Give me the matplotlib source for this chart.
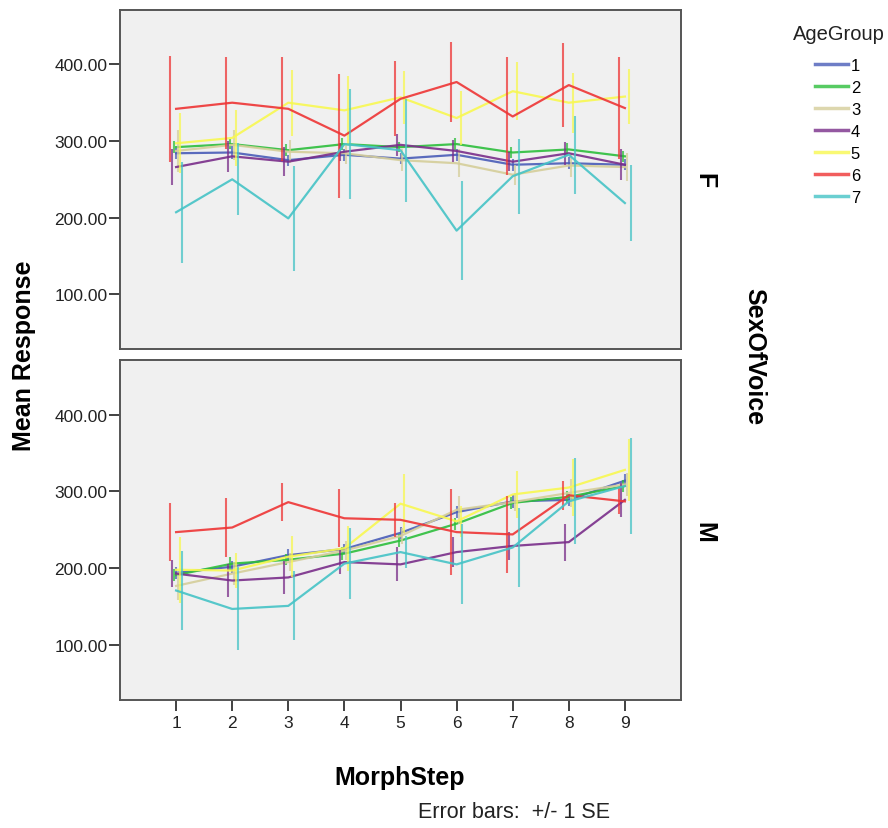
import numpy as np
import matplotlib
matplotlib.use("Agg")
import matplotlib.pyplot as plt
from matplotlib.lines import Line2D

plt.rcParams['font.family'] = ['Liberation Sans', 'DejaVu Sans']

# MorphStep categories and age groups
steps = [1, 2, 3, 4, 5, 6, 7, 8, 9]
age_groups = ['1', '2', '3', '4', '5', '6', '7']

# Female voice (top panel): means and standard errors per age group
f_mean = {
    '1': [284, 285, 275, 282, 277, 282, 269, 271, 269],
    '2': [292, 296, 288, 296, 292, 296, 285, 289, 280],
    '3': [287, 295, 286, 284, 275, 271, 256, 268, 266],
    '4': [266, 280, 273, 286, 295, 287, 273, 284, 269],
    '5': [297, 304, 350, 340, 357, 330, 365, 350, 358],
    '6': [342, 350, 342, 307, 355, 377, 332, 373, 343],
    '7': [207, 250, 199, 296, 288, 183, 254, 282, 219],
}
f_se = {
    '1': [7, 8, 7, 8, 7, 8, 8, 8, 7],
    '2': [8, 7, 8, 8, 7, 8, 7, 8, 7],
    '3': [27, 20, 15, 14, 14, 18, 13, 15, 18],
    '4': [24, 20, 19, 12, 14, 14, 12, 15, 20],
    '5': [39, 36, 43, 45, 35, 35, 38, 39, 36],
    '6': [69, 60, 68, 81, 49, 52, 77, 55, 66],
    '7': [66, 47, 69, 72, 67, 65, 49, 51, 50],
}

# Male voice (bottom panel)
m_mean = {
    '1': [194, 202, 217, 225, 246, 273, 287, 289, 314],
    '2': [191, 206, 211, 219, 236, 258, 285, 293, 307],
    '3': [177, 193, 208, 223, 242, 276, 286, 298, 309],
    '4': [193, 184, 188, 208, 205, 221, 229, 234, 289],
    '5': [198, 197, 215, 226, 284, 261, 296, 305, 328],
    '6': [247, 253, 286, 265, 263, 247, 244, 295, 287],
    '7': [171, 147, 151, 206, 221, 205, 227, 287, 307],
}
m_se = {
    '1': [8, 8, 8, 7, 8, 8, 8, 8, 8],
    '2': [8, 8, 7, 8, 8, 8, 8, 8, 8],
    '3': [18, 15, 12, 12, 10, 18, 12, 18, 15],
    '4': [18, 22, 22, 16, 22, 20, 18, 24, 22],
    '5': [43, 23, 27, 29, 38, 20, 30, 37, 40],
    '6': [38, 38, 25, 38, 22, 56, 50, 19, 17],
    '7': [52, 54, 45, 46, 21, 52, 51, 56, 63],
}

colors = {
    '1': '#4A5DB8',
    '2': '#2DBE3C',
    '3': '#D5CE9A',
    '4': '#7A2E8A',
    '5': '#F8F850',
    '6': '#EE3535',
    '7': '#45C3C6',
}
# horizontal dodge of the error bars (lines stay on the category)
dodge = {'6': -3, '4': -2, '2': -1, '1': 0, '3': 1, '5': 2, '7': 3}

W, H = 888, 829
fig = plt.figure(figsize=(W / 100, H / 100), dpi=100)


def fx(x):
    return x / W


def fy(y):
    return 1 - y / H


ax_f = fig.add_axes([fx(120), fy(350), fx(681) - fx(120), fy(11) - fy(350)])
ax_m = fig.add_axes([fx(120), fy(701), fx(681) - fx(120), fy(361) - fy(701)])

x = np.array(steps)
for ax, means, ses in [(ax_f, f_mean, f_se), (ax_m, m_mean, m_se)]:
    ax.set_facecolor('#F0F0F0')
    for g in age_groups:
        c = colors[g]
        xe = x + dodge[g] * 0.035
        ax.errorbar(xe, means[g], yerr=ses[g], fmt='none', ecolor=c,
                    elinewidth=1.5, capsize=0, alpha=0.75)
        ax.plot(x, means[g], color=c, lw=1.6, alpha=0.9)
    ax.set_xlim(0, 10)
    ax.set_ylim(28.5, 471)
    ax.set_yticks([100, 200, 300, 400])
    ax.set_yticklabels(['100.00', '200.00', '300.00', '400.00'])
    ax.tick_params(axis='y', length=8, width=1.3, pad=1, labelsize=12.5,
                   color='#333333', labelcolor='#222222')
    for s in ax.spines.values():
        s.set_color('#555555')
        s.set_linewidth(1.4)

ax_f.set_xticks([])
ax_m.set_xticks(steps)
ax_m.tick_params(axis='x', length=8, width=1.3, pad=3, labelsize=12.5,
                 color='#333333', labelcolor='#222222')

fig.text(fx(24), fy(356), 'Mean Response', rotation=90, ha='center',
         va='center', fontsize=18, fontweight='bold')
fig.text(fx(400), fy(778), 'MorphStep', ha='center', va='center',
         fontsize=18, fontweight='bold')
fig.text(fx(610), fy(818), 'Error bars:  +/- 1 SE', ha='right',
         va='baseline', fontsize=15.5, color='#222222')
fig.text(fx(704), fy(181), 'F', rotation=-90, ha='center', va='center',
         fontsize=18, fontweight='bold')
fig.text(fx(704), fy(532), 'M', rotation=-90, ha='center', va='center',
         fontsize=18, fontweight='bold')
fig.text(fx(754), fy(357), 'SexOfVoice', rotation=-90, ha='center',
         va='center', fontsize=18, fontweight='bold')

# legend: title as separate text, entries below
fig.text(fx(839), fy(34), 'AgeGroup', ha='center', va='center',
         fontsize=14.5, color='#222222')
handles = [Line2D([], [], color=colors[g], lw=2.5, alpha=0.8) for g in age_groups]
fig.legend(handles, age_groups, frameon=False, loc='upper left',
           bbox_to_anchor=(fx(815), fy(59)), fontsize=12, handlelength=1.95,
           labelspacing=0.42, handletextpad=0.2, borderpad=0, borderaxespad=0)

fig.savefig('out.png', dpi=100)
